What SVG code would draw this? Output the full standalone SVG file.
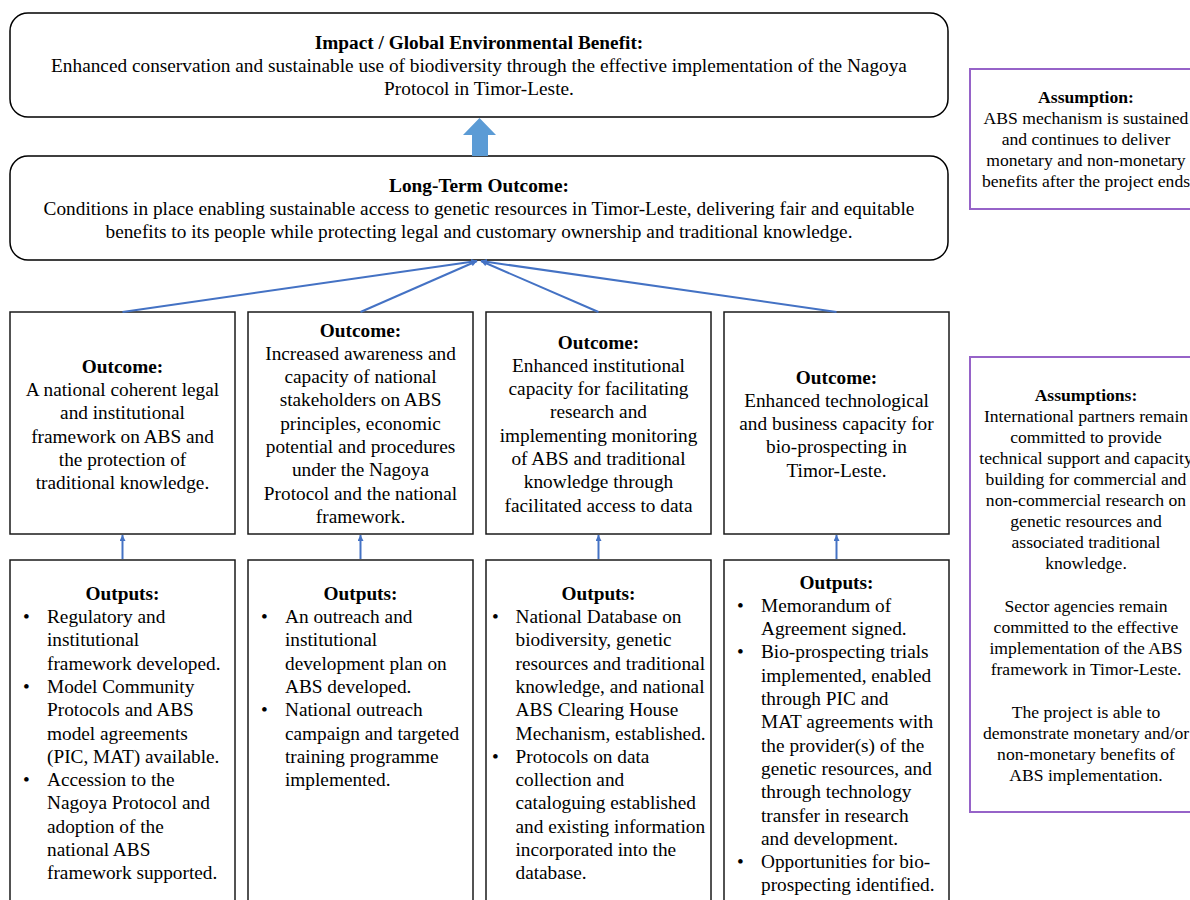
<svg xmlns="http://www.w3.org/2000/svg" width="1190" height="900" viewBox="0 0 1190 900">
<defs>
<style>
.t{font-family:"Liberation Serif","Times New Roman",serif;font-size:19.3px;fill:#000}
.s{font-family:"Liberation Serif","Times New Roman",serif;font-size:17.6px;fill:#000}
.b{font-weight:bold}
.c{text-anchor:middle}
.rbox{fill:#fff;stroke:#000;stroke-width:1.5}
.box{fill:#fff;stroke:#1a1a1a;stroke-width:1.5}
.abox{fill:#fff;stroke:#9663C8;stroke-width:2}
.con{stroke:#4472C4;stroke-width:2;fill:none}
</style>
<marker id="ah" viewBox="0 0 10 10" refX="10" refY="5" markerWidth="6" markerHeight="6" markerUnits="userSpaceOnUse" orient="auto">
<path d="M0,0 L10,5 L0,10 z" fill="#4472C4"/>
</marker>
<marker id="ah2" viewBox="0 0 10 10" refX="10" refY="5" markerWidth="6" markerHeight="6" orient="auto">
<path d="M0,0 L10,5 L0,10 z" fill="#4472C4"/>
</marker>
</defs>
<rect width="1190" height="900" fill="#fff"/>

<g id="impact">
<rect class="rbox" x="10" y="13" width="938" height="104" rx="18"/>
<text class="t b c" x="479" y="49">Impact / Global Environmental Benefit:</text>
<text class="t c" x="479" y="72">Enhanced conservation and sustainable use of biodiversity through the effective implementation of the Nagoya</text>
<text class="t c" x="479" y="95">Protocol in Timor-Leste.</text>
</g>

<g id="longterm">
<rect class="rbox" x="10" y="156" width="938" height="104" rx="18"/>
<text class="t b c" x="479" y="192">Long-Term Outcome:</text>
<text class="t c" x="479" y="215">Conditions in place enabling sustainable access to genetic resources in Timor-Leste, delivering fair and equitable</text>
<text class="t c" x="479" y="238">benefits to its people while protecting legal and customary ownership and traditional knowledge.</text>
</g>

<g id="assumption1">
<rect class="abox" x="970" y="69" width="240" height="140"/>
<text class="s b c" x="1086" y="103">Assumption:</text>
<text class="s c" x="1086" y="124">ABS mechanism is sustained</text>
<text class="s c" x="1086" y="145">and continues to deliver</text>
<text class="s c" x="1086" y="166">monetary and non-monetary</text>
<text class="s c" x="1086" y="187">benefits after the project ends</text>
</g>

<g id="assumption2">
<rect class="abox" x="970" y="357" width="240" height="455"/>
<text class="s b c" x="1086" y="401">Assumptions:</text>
<text class="s c" x="1086" y="422">International partners remain</text>
<text class="s c" x="1086" y="443">committed to provide</text>
<text class="s c" x="1086" y="464">technical support and capacity</text>
<text class="s c" x="1086" y="485">building for commercial and</text>
<text class="s c" x="1086" y="506">non-commercial research on</text>
<text class="s c" x="1086" y="527">genetic resources and</text>
<text class="s c" x="1086" y="548">associated traditional</text>
<text class="s c" x="1086" y="569">knowledge.</text>
<text class="s c" x="1086" y="612">Sector agencies remain</text>
<text class="s c" x="1086" y="633">committed to the effective</text>
<text class="s c" x="1086" y="654">implementation of the ABS</text>
<text class="s c" x="1086" y="675">framework in Timor-Leste.</text>
<text class="s c" x="1086" y="718">The project is able to</text>
<text class="s c" x="1086" y="739">demonstrate monetary and/or</text>
<text class="s c" x="1086" y="760">non-monetary benefits of</text>
<text class="s c" x="1086" y="781">ABS implementation.</text>
</g>

<g id="outcome1">
<rect class="box" x="10" y="312" width="225" height="222"/>
<text class="t b c" x="122.5" y="373">Outcome:</text>
<text class="t c" x="122.5" y="396">A national coherent legal</text>
<text class="t c" x="122.5" y="419.3">and institutional</text>
<text class="t c" x="122.5" y="442.6">framework on ABS and</text>
<text class="t c" x="122.5" y="466">the protection of</text>
<text class="t c" x="122.5" y="489.3">traditional knowledge.</text>
</g>

<g id="outcome2">
<rect class="box" x="248" y="312" width="225" height="222"/>
<text class="t b c" x="360.5" y="336.5">Outcome:</text>
<text class="t c" x="360.5" y="359.8">Increased awareness and</text>
<text class="t c" x="360.5" y="383.1">capacity of national</text>
<text class="t c" x="360.5" y="406.4">stakeholders on ABS</text>
<text class="t c" x="360.5" y="429.7">principles, economic</text>
<text class="t c" x="360.5" y="453">potential and procedures</text>
<text class="t c" x="360.5" y="476.3">under the Nagoya</text>
<text class="t c" x="360.5" y="499.6">Protocol and the national</text>
<text class="t c" x="360.5" y="522.9">framework.</text>
</g>

<g id="outcome3">
<rect class="box" x="486" y="312" width="225" height="222"/>
<text class="t b c" x="598.5" y="348.5">Outcome:</text>
<text class="t c" x="598.5" y="371.8">Enhanced institutional</text>
<text class="t c" x="598.5" y="395.1">capacity for facilitating</text>
<text class="t c" x="598.5" y="418.4">research and</text>
<text class="t c" x="598.5" y="441.7">implementing monitoring</text>
<text class="t c" x="598.5" y="465">of ABS and traditional</text>
<text class="t c" x="598.5" y="488.3">knowledge through</text>
<text class="t c" x="598.5" y="511.6">facilitated access to data</text>
</g>

<g id="outcome4">
<rect class="box" x="724" y="312" width="225" height="222"/>
<text class="t b c" x="836.5" y="383.5">Outcome:</text>
<text class="t c" x="836.5" y="406.8">Enhanced technological</text>
<text class="t c" x="836.5" y="430.1">and business capacity for</text>
<text class="t c" x="836.5" y="453.4">bio-prospecting in</text>
<text class="t c" x="836.5" y="476.7">Timor-Leste.</text>
</g>

<g id="outputs1">
<rect class="box" x="10" y="560" width="225" height="360"/>
<text class="t b c" x="122.5" y="600">Outputs:</text>
<text class="t" x="23" y="623">•</text><text class="t" x="47" y="623">Regulatory and</text>
<text class="t" x="47" y="646.3">institutional</text>
<text class="t" x="47" y="669.6">framework developed.</text>
<text class="t" x="23" y="692.9">•</text><text class="t" x="47" y="692.9">Model Community</text>
<text class="t" x="47" y="716.2">Protocols and ABS</text>
<text class="t" x="47" y="739.5">model agreements</text>
<text class="t" x="47" y="762.8">(PIC, MAT) available.</text>
<text class="t" x="23" y="786.1">•</text><text class="t" x="47" y="786.1">Accession to the</text>
<text class="t" x="47" y="809.4">Nagoya Protocol and</text>
<text class="t" x="47" y="832.7">adoption of the</text>
<text class="t" x="47" y="856">national ABS</text>
<text class="t" x="47" y="879.3">framework supported.</text>
</g>

<g id="outputs2">
<rect class="box" x="248" y="560" width="225" height="360"/>
<text class="t b c" x="360.5" y="600">Outputs:</text>
<text class="t" x="261" y="623">•</text><text class="t" x="285" y="623">An outreach and</text>
<text class="t" x="285" y="646.3">institutional</text>
<text class="t" x="285" y="669.6">development plan on</text>
<text class="t" x="285" y="692.9">ABS developed.</text>
<text class="t" x="261" y="716.2">•</text><text class="t" x="285" y="716.2">National outreach</text>
<text class="t" x="285" y="739.5">campaign and targeted</text>
<text class="t" x="285" y="762.8">training programme</text>
<text class="t" x="285" y="786.1">implemented.</text>
</g>

<g id="outputs3">
<rect class="box" x="486" y="560" width="225" height="360"/>
<text class="t b c" x="598.5" y="600">Outputs:</text>
<text class="t" x="492" y="623">•</text><text class="t" x="515.5" y="623">National Database on</text>
<text class="t" x="515.5" y="646.3">biodiversity, genetic</text>
<text class="t" x="515.5" y="669.6">resources and traditional</text>
<text class="t" x="515.5" y="692.9">knowledge, and national</text>
<text class="t" x="515.5" y="716.2">ABS Clearing House</text>
<text class="t" x="515.5" y="739.5">Mechanism, established.</text>
<text class="t" x="492" y="762.8">•</text><text class="t" x="515.5" y="762.8">Protocols on data</text>
<text class="t" x="515.5" y="786.1">collection and</text>
<text class="t" x="515.5" y="809.4">cataloguing established</text>
<text class="t" x="515.5" y="832.7">and existing information</text>
<text class="t" x="515.5" y="856">incorporated into the</text>
<text class="t" x="515.5" y="879.3">database.</text>
</g>

<g id="outputs4">
<rect class="box" x="724" y="560" width="225" height="360"/>
<text class="t b c" x="836.5" y="588.5">Outputs:</text>
<text class="t" x="737" y="611.8">•</text><text class="t" x="761" y="611.8">Memorandum of</text>
<text class="t" x="761" y="635.1">Agreement signed.</text>
<text class="t" x="737" y="658.4">•</text><text class="t" x="761" y="658.4">Bio-prospecting trials</text>
<text class="t" x="761" y="681.7">implemented, enabled</text>
<text class="t" x="761" y="705">through PIC and</text>
<text class="t" x="761" y="728.3">MAT agreements with</text>
<text class="t" x="761" y="751.6">the provider(s) of the</text>
<text class="t" x="761" y="774.9">genetic resources, and</text>
<text class="t" x="761" y="798.2">through technology</text>
<text class="t" x="761" y="821.5">transfer in research</text>
<text class="t" x="761" y="844.8">and development.</text>
<text class="t" x="737" y="868.1">•</text><text class="t" x="761" y="868.1">Opportunities for bio-</text>
<text class="t" x="761" y="891.4">prospecting identified.</text>
</g>

<g id="connectors">
<path d="M472,156 V135 H463 L479.5,118 L496,135 H488 V156 Z" fill="#5B9BD5"/>
<line class="con" x1="122.5" y1="312" x2="477" y2="261" marker-end="url(#ah)"/>
<line class="con" x1="360.5" y1="312" x2="477" y2="261" marker-end="url(#ah)"/>
<line class="con" x1="598.5" y1="312" x2="481" y2="261" marker-end="url(#ah)"/>
<line class="con" x1="836.5" y1="312" x2="481" y2="261" marker-end="url(#ah)"/>
<line class="con" x1="122.5" y1="559" x2="122.5" y2="535" marker-end="url(#ah)"/>
<line class="con" x1="360.5" y1="559" x2="360.5" y2="535" marker-end="url(#ah)"/>
<line class="con" x1="598.5" y1="559" x2="598.5" y2="535" marker-end="url(#ah)"/>
<line class="con" x1="836.5" y1="559" x2="836.5" y2="535" marker-end="url(#ah)"/>
</g>
</svg>
